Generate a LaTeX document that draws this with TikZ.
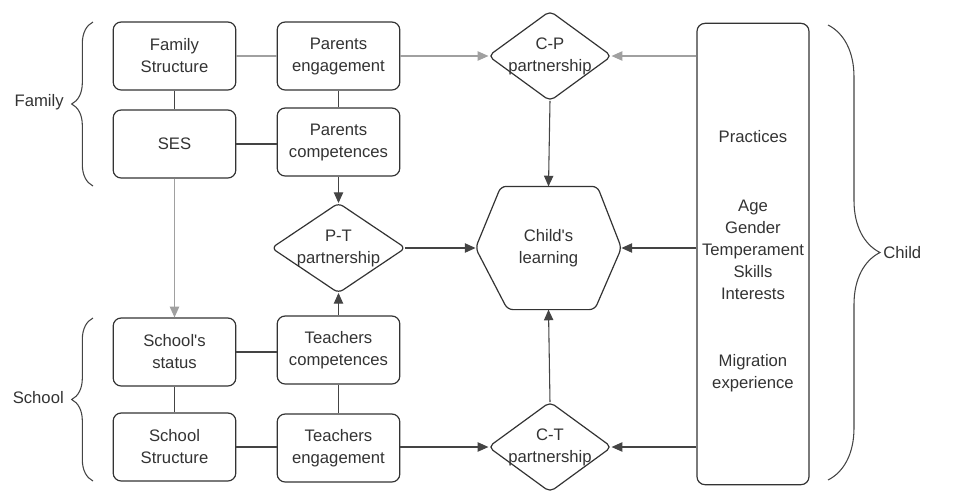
\documentclass[tikz,border=0pt]{standalone}
\usepackage{fontspec}
\setmainfont{Liberation Sans}[Ligatures=TeXOff]
\usetikzlibrary{arrows.meta}
\usetikzlibrary{decorations.pathreplacing}
\definecolor{inkgray}{HTML}{333333}
\definecolor{linegray}{HTML}{444444}
\definecolor{palegray}{HTML}{A0A0A0}
\tikzset{
    factor/.style={draw=inkgray,line width=0.9pt,rounded corners=6pt,
        minimum width=92pt,minimum height=51pt,inner sep=0pt,
        align=center,text=inkgray},
    shapetext/.style={inner sep=0pt,align=center,text=inkgray},
    outline/.style={draw=inkgray,line width=0.9pt,rounded corners=4pt},
    link/.style={draw=linegray,line width=0.8pt},
    palelink/.style={draw=palegray,line width=0.8pt},
    leads/.style={-{Triangle[length=8pt,width=7pt]}},
    groupbrace/.style={draw=linegray,line width=0.8pt,decorate,
        decoration={brace,amplitude=#1}},
    grouplabel/.style={inner sep=0pt,text=inkgray}
}

\begin{document}
\begin{tikzpicture}[x=0.75pt,y=-0.75pt,font=\fontsize{12.5}{16.5}\selectfont]
	\useasboundingbox (0,0) rectangle (976,490);

	% family side
	\node[factor] (famstruct) at (174.5,56) {Family\\Structure};
	\node[factor] (ses) at (174.5,144) {SES};
	\node[factor] (pareng) at (338.5,56) {Parents\\engagement};
	\node[factor] (parcomp) at (338.5,142) {Parents\\competences};

	% school side
	\node[factor] (schstatus) at (174.5,352) {School's\\status};
	\node[factor] (schstruct) at (174.5,447) {School\\Structure};
	\node[factor] (teacomp) at (338.5,350) {Teachers\\competences};
	\node[factor] (teaeng) at (338.5,448) {Teachers\\engagement};

	% partnerships and learning
	\node[shapetext,minimum width=92pt,minimum height=67pt] (cp) at (550,56) {C-P\\partnership};
	\node[shapetext,minimum width=100pt,minimum height=67pt] (pt) at (338.5,248) {P-T\\partnership};
	\node[shapetext,minimum width=92pt,minimum height=67pt] (ct) at (550,447) {C-T\\partnership};
	\node[shapetext,minimum width=109pt,minimum height=92pt] (learn) at (548.5,248) {Child's\\learning};

	\draw[outline] (cp.west) -- (cp.north) -- (cp.east) -- (cp.south) -- cycle;
	\draw[outline] (pt.west) -- (pt.north) -- (pt.east) -- (pt.south) -- cycle;
	\draw[outline] (ct.west) -- (ct.north) -- (ct.east) -- (ct.south) -- cycle;
	\draw[outline] (learn.west) -- ([xshift=19pt]learn.north west) -- ([xshift=-18pt]learn.north east)
		-- (learn.east) -- ([xshift=-20pt]learn.south east) -- ([xshift=24pt]learn.south west) -- cycle;

	% child
	\node[factor,minimum width=84pt,minimum height=346pt] (kid) at (753,254) {};
	\node[shapetext] (kidtraits) at (753,261.5) {Practices\\[35pt]Age\\Gender\\Temperament\\Skills\\Interests\\[34pt]Migration\\experience};

	% connectors
	\draw[palelink] (famstruct.east) -- (pareng.west);
	\draw[palelink,leads] (pareng.east) -- (cp.west);
	\draw[palelink,leads] (kid.west |- cp.east) -- (cp.east);
	\draw[link] (famstruct.south) -- (ses.north);
	\draw[link] (ses.east) -- (ses.east -| parcomp.west);
	\draw[link] (pareng.south) -- (parcomp.north);
	\draw[link,leads] (parcomp.south) -- (pt.north);
	\draw[palelink,leads] (ses.south) -- (schstatus.north);
	\draw[link] (schstatus.south) -- (schstruct.north);
	\draw[link] (schstatus.east) -- (schstatus.east -| teacomp.west);
	\draw[link] (schstruct.east) -- (schstruct.east -| teaeng.west);
	\draw[link] (teacomp.south) -- (teaeng.north);
	\draw[link,leads] (teacomp.north) -- (pt.south);
	\draw[link,leads] (pt.east) -- (learn.west);
	\draw[link,leads] (kid.west |- learn.east) -- (learn.east);
	\draw[link,leads] (cp.south) -- (learn.north);
	\draw[link,leads] (ct.north) -- (learn.south);
	\draw[link,leads] (teaeng.east |- ct.west) -- (ct.west);
	\draw[link,leads] (kid.west |- ct.east) -- (ct.east);

	% groups
	\draw[groupbrace=16pt] (93,186) -- (93,22);
	\draw[groupbrace=16pt] (93,481) -- (93,318);
	\draw[groupbrace=39pt] (828,25) -- (828,480);
	\node[grouplabel,anchor=east] (famlabel) at (64,102) {Family};
	\node[grouplabel,anchor=east] (schlabel) at (64,398) {School};
	\node[grouplabel,anchor=west] (kidlabel) at (883,253) {Child};
\end{tikzpicture}
\end{document}
